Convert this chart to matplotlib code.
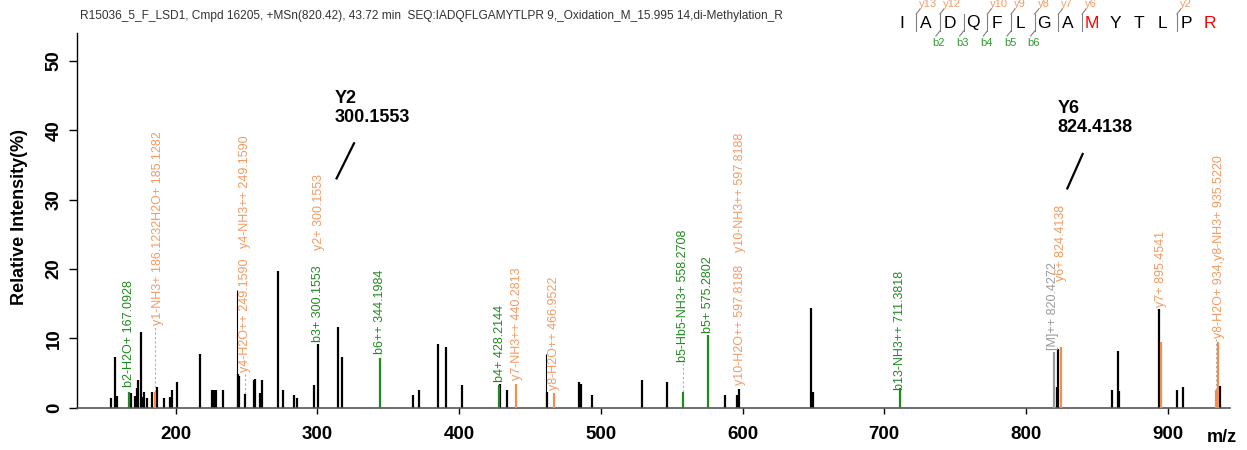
import matplotlib
matplotlib.use('Agg')
import matplotlib.pyplot as plt

plt.rcParams['font.family'] = ['Liberation Sans', 'DejaVu Sans']

title = ("R15036_5_F_LSD1, Cmpd 16205, +MSn(820.42), 43.72 min  "
         "SEQ:IADQFLGAMYTLPR 9,_Oxidation_M_15.995 14,di-Methylation_R")

# unmatched peaks (black)
black_mz = [154.3, 156.9, 158.3, 168.6, 171.2, 172.4, 173.3, 175.2, 176.4, 177.4,
            179.5, 183.4, 186.7, 191.5, 195.9, 197.3, 201.1, 216.9, 225.3, 226.7,
            228.4, 233.3, 243.9, 244.8, 248.9, 255.0, 255.9, 259.6, 260.8, 272.3,
            275.4, 283.4, 285.3, 297.3, 300.16, 314.5, 317.3, 367.6, 371.8, 385.0,
            390.6, 402.2, 429.0, 433.9, 461.7, 484.8, 486.2, 493.5, 529.2, 546.6,
            587.4, 596.3, 597.5, 648.5, 649.7, 821.7, 822.8, 860.5, 864.7, 865.7,
            894.2, 906.5, 910.7, 936.9]
black_int = [1.35, 7.35, 1.7, 2.1, 1.7, 2.8, 4.0, 10.9, 1.6, 2.3,
             1.4, 2.2, 3.0, 1.4, 1.6, 2.5, 3.7, 7.8, 2.5, 2.5,
             2.5, 2.5, 4.85, 4.5, 2.0, 4.0, 4.2, 2.1, 4.0, 19.7,
             2.6, 1.8, 1.45, 3.3, 9.2, 11.7, 7.3, 1.9, 2.5, 9.2,
             8.7, 3.2, 3.4, 2.55, 2.2, 3.65, 3.4, 1.9, 4.0, 3.7,
             1.9, 1.8, 2.7, 14.3, 2.2, 3.0, 8.4, 2.5, 8.2, 2.4,
             14.2, 2.6, 3.0, 3.1]
thin_mz = [243.2, 461.0]
thin_int = [16.9, 7.7]

# y ions (orange) and b ions (green), precursor (gray)
y_mz = [185.13, 439.9, 466.95, 824.41, 895.45, 933.8, 935.52]
y_int = [2.2, 3.4, 2.1, 8.8, 9.45, 2.6, 9.45]
b_mz = [167.09, 344.20, 428.21, 558.27, 575.28, 711.38]
b_int = [2.3, 7.2, 3.2, 2.3, 10.5, 2.8]
m_mz = [820.0]
m_int = [8.0]

label_text = ['b2-H2O+ 167.0928', 'y1-NH3+ 186.1232H2O+ 185.1282',
              'y4-H2O++ 249.1590', 'y4-NH3++ 249.1590', 'y2+ 300.1553',
              'b3+ 300.1553', 'b6++ 344.1984', 'b4+ 428.2144', 'y7-NH3++ 440.2813',
              'y8-H2O++ 466.9522', 'b5-Hb5-NH3+ 558.2708', 'b5+ 575.2802',
              'y10-H2O++ 597.8188', 'y10-NH3++ 597.8188', 'b13-NH3++ 711.3818',
              '[M]++ 820.4272', 'y6+ 824.4138', 'y7+ 895.4541',
              'y8-H2O+ 934,y8-NH3+ 935.5220']
label_kind = ['b', 'y', 'y', 'y', 'y', 'b', 'b', 'b', 'y', 'y', 'b', 'b',
              'y', 'y', 'b', 'm', 'y', 'y', 'y']
label_mz = [167.09, 187.4, 248.8, 248.8, 301.2, 300.6, 344.2, 428.5, 440.6,
            467.2, 558.3, 575.5, 598.1, 598.1, 711.4, 819.2, 824.8, 895.6, 936.0]
label_y = [3.0, 11.9, 5.2, 23.0, 22.7, 9.5, 7.7, 3.75, 4.0, 2.5, 6.6, 10.7,
           3.3, 22.5, 2.55, 8.3, 18.2, 14.55, 10.0]

# dashed leaders from a lifted label down to its peak
leader_mz = [185.13, 248.9, 558.27, 933.8]
leader_top = [11.9, 5.2, 6.6, 10.0]
leader_bot = [2.2, 2.0, 2.3, 2.6]

callout_name = ['Y2', 'Y6']
callout_mz = [300.1553, 824.4138]

sequence = list('IADQFLGAMYTLPR')
modified = [8, 13]
y_cuts = {1: 'y13', 2: 'y12', 4: 'y10', 5: 'y9', 6: 'y8', 7: 'y7', 8: 'y6', 12: 'y2'}
b_cuts = {2: 'b2', 3: 'b3', 4: 'b4', 5: 'b5', 6: 'b6'}

orange = '#F28E50'
orange_txt = '#F39A62'
green = '#1F8A1F'
gray = '#9A9A9A'

W, H = 1247, 450
fig = plt.figure(figsize=(W / 100, H / 100), dpi=100)
ax = fig.add_axes([76.7 / W, 42.3 / H, (1230 - 76.7) / W, (417 - 42.3) / H])

ax.vlines(black_mz, 0, black_int, color='black', lw=1.6, zorder=2)
ax.vlines(thin_mz, 0, thin_int, color='black', lw=0.8, zorder=2)
ax.vlines(m_mz, 0, m_int, color=gray, lw=1.6, zorder=3)
ax.vlines(y_mz, 0, y_int, color=orange, lw=1.6, zorder=3)
ax.vlines(b_mz, 0, b_int, color=green, lw=1.6, zorder=3)
ax.vlines(leader_mz, leader_bot, leader_top, color='#B0B0B0', lw=0.8,
          linestyles=(0, (2, 2)), zorder=1)

cols = {'y': orange_txt, 'b': green, 'm': gray}
for t, k, x, y in zip(label_text, label_kind, label_mz, label_y):
    ax.text(x, y, t, rotation=90, ha='center', va='bottom', fontsize=9,
            color=cols[k], zorder=4)

# big callouts for Y2 and Y6
call_pos = [(312.4, 43.2, 313.5, 33.05, 325.8, 38.1),
            (822.5, 41.7, 829.2, 31.6, 840.0, 36.56)]
for name, mz, (tx, ty, x0, y0, x1, y1) in zip(callout_name, callout_mz, call_pos):
    ax.text(tx, ty, '%s\n%.4f' % (name, mz), ha='left', va='center',
            fontsize=13, fontweight='bold', linespacing=1.15)
    ax.plot([x0, x1], [y0, y1], color='black', lw=1.6, clip_on=False)

ax.set_xlim(130.1, 944.0)
ax.set_ylim(0, 54)
ax.spines['top'].set_visible(False)
ax.spines['right'].set_visible(False)
ax.spines['bottom'].set_color('#555555')
ax.spines['bottom'].set_linewidth(1.2)
ax.spines['left'].set_linewidth(1.0)
ax.set_xticks(range(200, 901, 100))
ax.set_xticklabels([str(v) for v in range(200, 901, 100)], fontsize=13.5,
                   fontweight='bold')
ax.set_yticks(range(0, 51, 10))
ax.set_yticklabels([str(v) for v in range(0, 51, 10)], fontsize=13.5,
                   fontweight='bold', rotation=90, va='center')
ax.tick_params(axis='x', length=4, width=1, pad=9)
ax.tick_params(axis='y', length=6, width=1, pad=4)

fig.text(20 / W, 1 - 216.7 / H, 'Relative Intensity(%)', rotation=90,
         ha='center', va='center', fontsize=13, fontweight='bold')
fig.text(1222 / W, 1 - 438 / H, 'm/z', ha='center', va='center',
         fontsize=13, fontweight='bold')
fig.text(80 / W, 1 - 16 / H, title, ha='left', va='center', fontsize=8.6,
         color='#333333')

# sequence with fragment brackets
def px(x, y):
    return x / W, 1 - y / H

lx = [902 + 23.7 * i for i in range(len(sequence))]
for i, aa in enumerate(sequence):
    fig.text(*px(lx[i], 23), aa, ha='center', va='center', fontsize=12.5,
             color='red' if i in modified else 'black')
for k in range(1, len(sequence)):
    if k not in y_cuts and k not in b_cuts:
        continue
    xv = lx[k] - 9.5
    fig.add_artist(plt.Line2D(*zip(px(xv, 14), px(xv, 31)), color='#808080', lw=0.8))
    if k in y_cuts:
        fig.add_artist(plt.Line2D(*zip(px(xv, 14), px(xv + 4, 9)), color='#808080', lw=0.8))
        fig.text(*px(xv + 3, 4), y_cuts[k], ha='left', va='center', fontsize=8,
                 color=orange_txt)
    if k in b_cuts:
        fig.add_artist(plt.Line2D(*zip(px(xv, 31), px(xv - 4, 36)), color='#808080', lw=0.8))
        fig.text(*px(xv - 1, 43), b_cuts[k], ha='center', va='center', fontsize=8,
                 color='#2E9E2E')

fig.savefig('out.png', dpi=100)
